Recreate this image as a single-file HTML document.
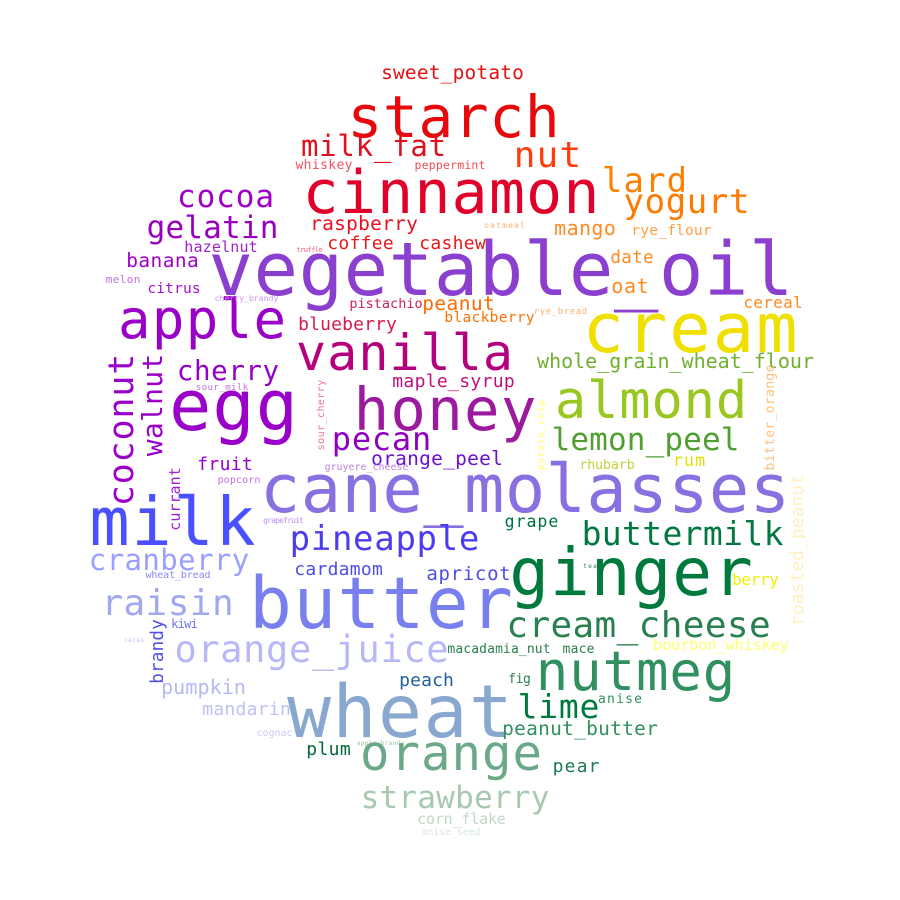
<!DOCTYPE html>
<html><head><meta charset="utf-8"><style>
html,body{margin:0;padding:0;background:#fff;}
svg{display:block;}
text{font-family:"DejaVu Sans Mono","DejaVu Sans","Liberation Sans",sans-serif;}
</style></head><body>
<svg id="cloud" width="900" height="900" viewBox="0 0 900 900" xmlns="http://www.w3.org/2000/svg">
<rect width="900" height="900" fill="#fff"/>
<g id="words"></g>
</svg>
<script>
const words=["sweet_potato","starch","milk_fat","nut","whiskey","peppermint","cinnamon","lard","yogurt","cocoa","gelatin","raspberry","coffee","cashew","hazelnut","truffle","mango","rye_flour","oatmeal","vegetable_oil","banana","melon","citrus","date","oat","apple","pistachio","peanut","blackberry","rye_bread","cereal","cream","blueberry","cherry_brandy","vanilla","whole_grain_wheat_flour","cherry","sour_milk","maple_syrup","coconut","walnut","sour_cherry","egg","honey","almond","pecan","lemon_peel","potato_chip","bitter_orange","orange_peel","fruit","gruyere_cheese","rhubarb","rum","roasted_peanut","popcorn","currant","cane_molasses","milk","grapefruit","grape","buttermilk","pineapple","cranberry","cardamom","apricot","wheat_bread","ginger","tea","berry","butter","raisin","brandy","kiwi","cacao","cream_cheese","orange_juice","macadamia_nut","mace","bourbon_whiskey","nutmeg","fig","wheat","peach","pumpkin","lime","anise","mandarin","peanut_butter","cognac","apple_brandy","plum","orange","pear","strawberry","corn_flake","anise_seed"];
const sizes=[19.5,58,29,36,13,11.5,60,34,34,31,31,19.5,18,18,15,7,20,14.6,8,74,19.5,11,14.5,17.5,20,54,13.5,19.5,14.5,9,16,69,18,8,50,20,27.5,9,18,35,28,10,70,59,52,32,31,9,13,19.5,18,10,13.5,16.5,18,10,15,67,67,8,16.5,33,34,29,18,19,10,66,6,16,71,36,17.5,12,6,36,37,13,13,15,54,13,73,18,20,33,13,18,19.5,10,6,18,49,18,31,15,10];
const colors=["#e81010","#e8070a","#e0101e","#ff3c0a","#f55060","#f44a4a","#e0002a","#ff7f00","#ff7a00","#a000c8","#9a00c0","#e81020","#e81818","#e81818","#a020d0","#f06070","#ff8a20","#ffa040","#ffb070","#8b3fcf","#a000c8","#c070e0","#a010d0","#ff8a20","#ff8a20","#9900c8","#d0205a","#ff6a00","#ff7000","#ffb070","#ff8a20","#f0e000","#d81a4a","#d090f0","#b5007d","#70b030","#9400c8","#c070e0","#c0107a","#9a00c8","#9a00c8","#f07090","#9a00c8","#9b1a9e","#98c820","#9000c0","#50a030","#ffff60","#ffc080","#6a10d0","#9a00c8","#c080e0","#c8d040","#e0e000","#fff0c0","#c070e0","#a020d0","#8870e0","#4a50ff","#c090f0","#007040","#007840","#4b3cf0","#9aa0ff","#4d4de8","#4d4de8","#8888f0","#007a3c","#2a8050","#f0f000","#7880f0","#a0a8f0","#5050e0","#7070f0","#c0c0f8","#2a8050","#b8b8f8","#2a8050","#2a8050","#ffff70","#309060","#2a8050","#88a8d0","#2060a0","#b8b8f8","#007a3c","#309060","#c0c0f8","#309060","#c8c8f8","#98c8a8","#006838","#6aa888","#207a50","#a8c8b0","#c0d8c8","#d8e8e0"];
// layout: [x, y, visible length, rotated(1=upward)]
const layout=[[382,79,141,0],[350,137,207,0],[302,156,143,0],[515,167,65,0],[296,169,56,0],[415,169,70,0],[305,213,292,0],[603,192,83,0],[625,213,123,0],[178,207,95,0],[148,238,129,0],[311,230,106,0],[328,249,65,0],[420,249,65,0],[185,252,72,0],[297,252,25,0],[555,235,60,0],[632,235,79,0],[484,228,41,0],[212,295,578,0],[127,267,71,0],[106,283,34,0],[148,293,52,0],[611,263,42,0],[612,293,36,0],[120,338,164,0],[350,308,72,0],[423,310,71,0],[445,322,89,0],[534,314,53,0],[744,308,58,0],[585,352,210,0],[299,330,97,0],[215,301,63,0],[298,370,213,0],[538,368,275,0],[178,380,100,0],[196,390,52,0],[393,387,121,0],[133,505,150,1],[162,455,100,1],[324,450,70,1],[172,430,123,0],[356,430,178,0],[557,418,188,0],[333,450,97,0],[553,450,185,0],[544,470,70,1],[774,470,105,1],[372,465,130,0],[198,470,54,0],[325,470,83,0],[580,469,54,0],[673,466,32,0],[803,625,150,1],[218,483,42,0],[180,530,62,1],[263,512,524,0],[92,545,161,0],[264,523,39,0],[505,527,53,0],[583,545,199,0],[291,550,187,0],[90,570,158,0],[295,575,87,0],[427,580,83,0],[146,578,64,0],[512,595,238,0],[583,568,14,0],[733,585,45,0],[252,628,258,0],[103,615,129,0],[163,683,63,1],[172,628,25,0],[124,642,20,0],[508,637,261,0],[176,662,271,0],[448,653,102,0],[563,653,31,0],[654,650,134,0],[538,690,195,0],[509,683,21,0],[290,737,220,0],[400,686,53,0],[162,694,83,0],[519,718,79,0],[598,703,44,0],[203,715,87,0],[503,735,154,0],[257,736,35,0],[357,745,47,0],[307,755,43,0],[362,770,178,0],[553,772,46,0],[362,808,186,0],[418,824,87,0],[422,835,58,0]];
const g=document.getElementById('words');
const NS='http://www.w3.org/2000/svg';
for(let i=0;i<words.length;i++){
  const fs=sizes[i];
  const L=layout[i];
  const w=words[i];
  const n=w.length;
  const adv=(L[2]+0.1*fs)/n;
  const t=document.createElementNS(NS,'text');
  
  
  t.setAttribute('font-size',fs);
  t.setAttribute('fill',colors[i]);
  t.setAttribute('text-anchor','middle');
  const xs=[];
  let start;
  if(L[3]){
    t.setAttribute('transform','translate('+L[0]+','+(L[1]+0.05*fs)+') rotate(-90)');
    start=0;
    t.setAttribute('y',0);
  }else{
    start=L[0]-0.05*fs;
    t.setAttribute('y',L[1]);
  }
  for(let k=0;k<n;k++) xs.push((start+adv*(k+0.5)).toFixed(1));
  t.setAttribute('x',xs.join(' '));
  t.textContent=w;
  g.appendChild(t);
}
</script>
</body></html>
